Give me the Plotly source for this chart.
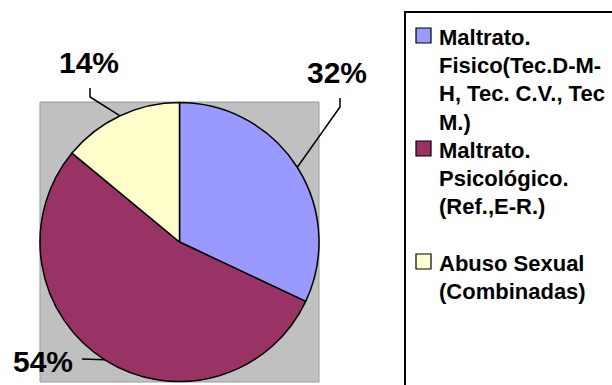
import math
import plotly.graph_objects as go

# ---------------- data ----------------
categories = [
    "Maltrato. Fisico(Tec.D-M-H, Tec. C.V., Tec M.)",
    "Maltrato. Psicológico. (Ref.,E-R.)",
    "Abuso Sexual (Combinadas)",
]
legend_lines = [
    ["Maltrato.", "Fisico(Tec.D-M-", "H, Tec. C.V., Tec", "M.)"],
    ["Maltrato.", "Psicológico.", "(Ref.,E-R.)"],
    ["Abuso Sexual", "(Combinadas)"],
]
values = [32, 54, 14]
colors = ["#9999FF", "#993366", "#FFFFCC"]

# ---------------- layout constants (pixels) ----------------
W, H = 612, 385
FONT = "Arial, 'Liberation Sans', sans-serif"
PIE_BOX = (40, 102, 319, 382)          # x0, y0, x1, y1 of pie domain / gray area
LABEL_POS = [(337, 73), (43, 361), (89, 62)]            # percent label centres
LEADER_PTS = [[(340, 107), (340, 98)], [(82, 359)], [(90, 97), (90, 88)]]
LEG_BOX = (405, 12, 650, 420)
LEG_TEXT_X = 437
LEG_FIRST_BASE = 45
LEG_PITCH = 113
LEG_LINE = 28.3
LEG_FS = 22


def X(px):
    return px / W


def Y(py):
    return 1 - py / H


fig = go.Figure()
fig.add_trace(go.Pie(
    labels=categories,
    values=values,
    sort=False,
    direction="clockwise",
    rotation=0,
    marker=dict(colors=colors, line=dict(color="black", width=1.5)),
    textinfo="none",
    hoverinfo="label+percent",
    showlegend=False,
    domain=dict(x=[X(PIE_BOX[0]), X(PIE_BOX[2])], y=[Y(PIE_BOX[3]), Y(PIE_BOX[1])]),
))

shapes = []
annotations = []

# gray plot area behind pie
shapes.append(dict(type="rect", xref="paper", yref="paper", layer="below",
                   x0=X(PIE_BOX[0]), x1=X(PIE_BOX[2]), y0=Y(PIE_BOX[3]), y1=Y(PIE_BOX[1]),
                   fillcolor="#C0C0C0", line=dict(color="#9A9A9A", width=1)))

# pie geometry (same as domain)
cx = (PIE_BOX[0] + PIE_BOX[2]) / 2
cy = (PIE_BOX[1] + PIE_BOX[3]) / 2
r = min(PIE_BOX[2] - PIE_BOX[0], PIE_BOX[3] - PIE_BOX[1]) / 2
total = sum(values)
cum = 0
for i, v in enumerate(values):
    mid = (cum + v / 2) / total
    cum += v
    th = 2 * math.pi * mid
    px, py = cx + r * math.sin(th), cy - r * math.cos(th)
    pts = [(px, py)] + LEADER_PTS[i]
    path = "M " + " L ".join(f"{X(a):.5f},{Y(b):.5f}" for a, b in pts)
    shapes.append(dict(type="path", xref="paper", yref="paper", path=path,
                       line=dict(color="black", width=1.5)))
    lx, ly = LABEL_POS[i]
    annotations.append(dict(x=X(lx), y=Y(ly), xref="paper", yref="paper",
                            xanchor="center", yanchor="middle", showarrow=False,
                            text=f"<b>{round(100 * v / total)}%</b>",
                            font=dict(family=FONT, size=30, color="black")))

# legend (manual, to reproduce spacing)
shapes.append(dict(type="rect", xref="paper", yref="paper",
                   x0=X(LEG_BOX[0]), x1=X(LEG_BOX[2]), y0=Y(LEG_BOX[3]), y1=Y(LEG_BOX[1]),
                   fillcolor="white", line=dict(color="black", width=2), layer="below"))
for i, lines in enumerate(legend_lines):
    base = LEG_FIRST_BASE + i * LEG_PITCH
    shapes.append(dict(type="rect", xref="paper", yref="paper",
                       x0=X(416), x1=X(431), y0=Y(base - 2), y1=Y(base - 17),
                       fillcolor=colors[i], line=dict(color="black", width=1.2)))
    for j, t in enumerate(lines):
        b = base + j * LEG_LINE
        annotations.append(dict(x=X(LEG_TEXT_X), y=Y(b - 0.358 * LEG_FS), xref="paper", yref="paper",
                                xanchor="left", yanchor="middle", showarrow=False,
                                text=f"<b>{t}</b>",
                                font=dict(family=FONT, size=LEG_FS, color="black")))

fig.update_layout(
    width=W, height=H,
    margin=dict(l=0, r=0, t=0, b=0),
    paper_bgcolor="white", plot_bgcolor="white",
    shapes=shapes, annotations=annotations,
    showlegend=False,
)
fig.write_html("out.html")
